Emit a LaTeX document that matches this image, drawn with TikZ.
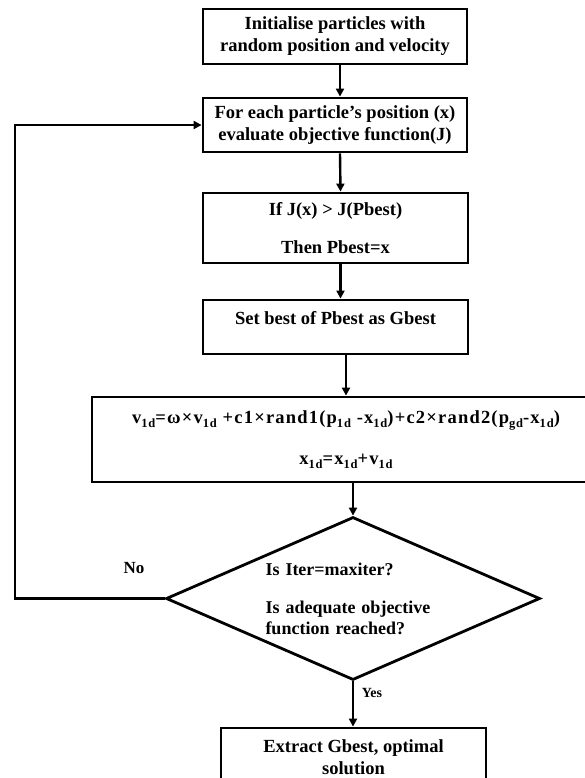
\documentclass[tikz,border=0pt]{standalone}
\usepackage{fontspec}
\setmainfont{Liberation Serif}
\usetikzlibrary{shapes.geometric,arrows.meta}
\newcommand\lsub[1]{\raisebox{-0.45ex}{\fontsize{12.5}{12.5}\selectfont #1}}
\begin{document}
\begin{tikzpicture}[x=1pt,y=-1pt,
  box/.style={draw, line width=2.8pt, inner sep=0pt, align=center,
    font=\fontsize{18.5}{22}\selectfont\bfseries},
  decision/.style={draw, diamond, aspect=2.3, line width=2.8pt, inner sep=0pt,
    minimum width=374, minimum height=163, text width=175, align=left,
    font=\fontsize{18}{21}\selectfont\bfseries},
  arr/.style={line width=2.4pt, -{Triangle[length=8pt,width=8pt]}},
  lbl/.style={inner sep=0pt, font=\bfseries}]
\useasboundingbox (0,0) rectangle (584,778);
\fill[white] (0,0) rectangle (584,778);

\node[box, minimum width=264, minimum height=55] (b1) at (335,36.5)
  {Initialise particles with\\random position and velocity};
\node[box, minimum width=264, minimum height=54] (b2) at (335,125)
  {For each particle's position (x)\\evaluate objective function(J)};
\node[box, minimum width=265, minimum height=70] (b3) at (335.5,228)
  {If J(x) > J(Pbest)\\[16pt]Then Pbest=x};
\node[box, minimum width=265, minimum height=54] (b4) at (335.5,327)
  {Set best of Pbest as Gbest\\[-4pt]\mbox{}};
\node[box, minimum width=508, minimum height=85,
  font=\fontsize{18.5}{22}\selectfont\bfseries\addfontfeature{LetterSpace=6.5}] (b5) at (346,439.5)
  {v\lsub{1d}=ω×v\lsub{1d} +c1×rand1(p\lsub{1d} -x\lsub{1d})+c2×rand2(p\lsub{gd}-x\lsub{1d})\\[19pt]
   x\lsub{1d}=x\lsub{1d}+v\lsub{1d}};
\node[decision] (dia) at (353,598.5)
  {Is Iter=maxiter?\\[17pt]Is adequate objective\\function reached?};
\node[box, minimum width=265, minimum height=64] (b6) at (353.5,760)
  {Extract Gbest, optimal\\solution\\[-16pt]\mbox{}};

\node[lbl, font=\fontsize{17}{17}\selectfont\bfseries] (no) at (134,568) {No};
\node[lbl, font=\fontsize{14}{14}\selectfont\bfseries] (yes) at (372,693) {Yes};

\coordinate (fbk) at (15,598.5);

\draw[arr] ([xshift=5pt]b1.south) -- ([xshift=5pt]b2.north);
\draw[arr] ([xshift=5pt]b2.south) -- ([xshift=5pt]b3.north);
\draw[arr] ([xshift=5pt]b3.south) -- ([xshift=5pt]b4.north);
\draw[arr] (b5.north |- b4.south) -- (b5.north);
\draw[arr] (b5.south -| dia.north) -- (dia.north);
\draw[arr] (dia.south) -- (dia.south |- b6.north);
\draw[arr] (dia.west) -- (fbk) |- (b2.west);
\end{tikzpicture}
\end{document}
